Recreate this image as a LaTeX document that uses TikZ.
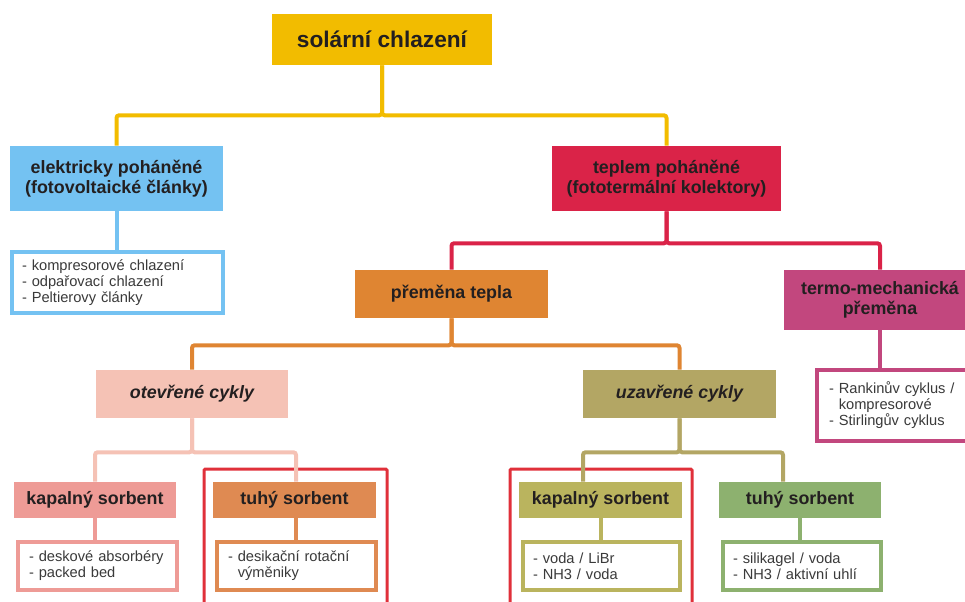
\documentclass[tikz,border=0pt]{standalone}
\usepackage{fontspec}
\setmainfont{Liberation Sans}
\usetikzlibrary{calc}
\definecolor{cyellow}{HTML}{F2BC00}
\definecolor{cblue}{HTML}{74C2F2}
\definecolor{cred}{HTML}{DA2348}
\definecolor{corange}{HTML}{DF8532}
\definecolor{cmagenta}{HTML}{C2477E}
\definecolor{cpinklt}{HTML}{F5C2B5}
\definecolor{cpink}{HTML}{EE9B96}
\definecolor{corangelt}{HTML}{DF8A52}
\definecolor{colive}{HTML}{B3A664}
\definecolor{colivelt}{HTML}{BAB45E}
\definecolor{cgreen}{HTML}{8DB16F}
\definecolor{chigh}{HTML}{E0303A}
\definecolor{ctxt}{HTML}{231F20}
\definecolor{clist}{HTML}{3A3A3A}
\begin{document}
\begin{tikzpicture}[x=0.75pt,y=-0.75pt,
    boxsize/.style 2 args={minimum width=0.75*#1pt, minimum height=0.75*#2pt},
    head/.style={fill=#1, text=ctxt, inner sep=0pt, align=center,
        font=\fontsize{13.4}{15}\selectfont\bfseries},
    listbox/.style={draw=#1, line width=3pt, fill=white, text=clist, inner sep=0pt,
        align=left, font=\fontsize{11}{12}\selectfont},
    link/.style={draw=#1, line width=3pt, rounded corners=2pt},
    highlight/.style={draw=chigh, line width=2.25pt, rounded corners=1pt}]
\clip (0,0) rectangle (965,601);
\useasboundingbox (0,0) rectangle (965,601);

% highlighted groups
\draw[highlight] (204,469) rectangle (387,612);
\draw[highlight] (510,469) rectangle (692,612);

% level 0
\node[head=cyellow, boxsize={220}{51}, font=\fontsize{17}{19}\selectfont\bfseries] (solar) at (382,39.5) {solární chlazení};

% level 1
\node[head=cblue, boxsize={213}{65}] (elektr) at (116.5,178.5) {elektricky poháněné\\(fotovoltaické články)};
\node[head=cred, boxsize={229}{65}] (teplem) at (666.5,178.5) {teplem poháněné\\(fototermální kolektory)};
\node[listbox=cblue, boxsize={211}{61}, text width=0.75*191pt] (elektrlist) at (117.5,282.5)
    {- kompresorové chlazení\\- odpařovací chlazení\\- Peltierovy články};

% level 2
\node[head=corange, boxsize={193}{48}] (premena) at (451.5,294) {přeměna tepla};
\node[head=cmagenta, boxsize={192}{60}] (termo) at (880,300) {termo-mechanická\\přeměna};
\node[listbox=cmagenta, boxsize={158}{71}, text width=0.75*134pt] (termolist) at (896,405.5)
    {- Rankinův cyklus /\\\hphantom{- }kompresorové\\- Stirlingův cyklus};

% level 3
\node[head=cpinklt, boxsize={192}{48}, font=\fontsize{13.4}{15}\selectfont\bfseries\itshape] (otevrene) at (192,394) {otevřené cykly};
\node[head=colive, boxsize={193}{48}, font=\fontsize{13.4}{15}\selectfont\bfseries\itshape] (uzavrene) at (679.5,394) {uzavřené cykly};

% level 4
\node[head=cpink, boxsize={162}{36}] (otkap) at (95,500) {kapalný sorbent};
\node[head=corangelt, boxsize={163}{36}] (ottuhy) at (294.5,500) {tuhý sorbent};
\node[head=colivelt, boxsize={163}{36}] (uzkap) at (600.5,500) {kapalný sorbent};
\node[head=cgreen, boxsize={162}{36}] (uztuhy) at (800,500) {tuhý sorbent};

\node[listbox=cpink, boxsize={159}{48}, text width=0.75*137pt] (otkaplist) at (97.5,566)
    {- deskové absorbéry\\- packed bed};
\node[listbox=corangelt, boxsize={159}{48}, text width=0.75*137pt] (ottuhylist) at (296.5,566)
    {- desikační rotační\\\hphantom{- }výměniky};
\node[listbox=colivelt, boxsize={157}{48}, text width=0.75*137pt] (uzkaplist) at (601.5,566)
    {- voda / LiBr\\- NH3 / voda};
\node[listbox=cgreen, boxsize={158}{48}, text width=0.75*138pt] (uztuhylist) at (802,566)
    {- silikagel / voda\\- NH3 / aktivní uhlí};

% connectors
\draw[link=cyellow] (solar.south) -- ++(0,50) -| (elektr.north);
\draw[link=cyellow] (solar.south) -- ++(0,50) -| (teplem.north);
\draw[link=cblue] (elektr.south) -- (elektrlist.north -| elektr.south);
\draw[link=cred] (teplem.south) -- ++(0,32) -| (premena.north);
\draw[link=cred] (teplem.south) -- ++(0,32) -| (termo.north);
\draw[link=cmagenta] (termo.south) -- (termolist.north -| termo.south);
\draw[link=corange] (premena.south) -- ++(0,27) -| (otevrene.north);
\draw[link=corange] (premena.south) -- ++(0,27) -| (uzavrene.north);
\draw[link=cpinklt] (otevrene.south) -- ++(0,34) -| (otkap.north);
\draw[link=cpinklt] (otevrene.south) -- ++(0,34) -| ($(ottuhy.north)+(1.5,0)$);
\draw[link=colive] (uzavrene.south) -- ++(0,34) -| ($(uzkap.north)+(-17.5,0)$);
\draw[link=colive] (uzavrene.south) -- ++(0,34) -| ($(uztuhy.north)+(-17,0)$);
\draw[link=cpink] (otkap.south) -- (otkaplist.north -| otkap.south);
\draw[link=corangelt] ($(ottuhy.south)+(1.5,0)$) -- ($(ottuhylist.north)+(-0.5,0)$);
\draw[link=colivelt] (uzkap.south) -- (uzkaplist.north -| uzkap.south);
\draw[link=cgreen] (uztuhy.south) -- (uztuhylist.north -| uztuhy.south);
\end{tikzpicture}
\end{document}
